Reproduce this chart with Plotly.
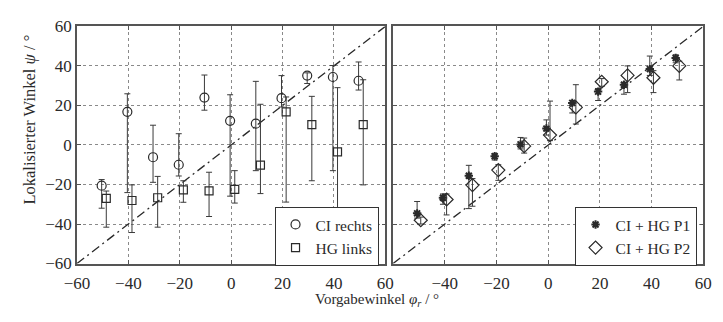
import plotly.graph_objects as go

# ---------------- data ----------------
angles = [-50, -40, -30, -20, -10, 0, 10, 20, 30, 40, 50]

ci_rechts = [-20.6, 16.8, -6.2, -10.0, 24.0, 12.2, 10.8, 23.7, 35.1, 34.4, 32.5]
ci_rechts_hi = [-17.5, 25.9, 10.0, 5.7, 35.4, 25.4, 32.2, 35.1, 36.5, 40.2, 42.0]
ci_rechts_lo = [-32.0, -24.1, -18.9, -15.7, 17.6, -25.9, -13.0, 19.2, 31.1, -13.0, 27.8]

hg_links = [-27.0, -28.1, -26.7, -22.7, -23.2, -22.5, -10.2, 16.7, 10.3, -3.5, 10.3]
hg_links_hi = [-23.3, -20.2, -15.9, -18.1, -13.8, -13.0, 20.6, 24.3, 24.6, 29.0, 33.0]
hg_links_lo = [-41.6, -44.3, -41.6, -29.0, -36.2, -29.4, -24.6, -28.9, -18.1, -32.9, -20.2]

p1 = [-34.6, -26.7, -15.6, -5.7, 0.3, 8.3, 21.3, 27.0, 30.5, 38.4, 44.0]
p1_hi = [-28.6, -24.8, -10.3, -4.4, 3.8, 12.7, 22.5, 28.6, 31.7, 45.0, 45.6]
p1_lo = [-37.0, -30.0, -32.2, -7.6, -2.0, 5.0, 16.2, 22.5, 25.7, 35.2, 41.6]

p2 = [-38.1, -27.6, -20.3, -12.7, -0.6, 5.0, 19.0, 32.0, 35.2, 34.0, 40.0]
p2_hi = [-36.5, -24.8, -17.0, -10.0, 3.5, 22.2, 30.5, 33.6, 40.0, 37.6, 42.4]
p2_lo = [-40.0, -35.4, -31.0, -17.9, -4.1, 2.2, 10.6, 29.7, 26.5, 26.5, 32.9]

diag = [-60, 60]
left_ticks = [-60, -40, -20, 0, 20, 40, 60]
right_ticks = [-40, -20, 0, 20, 40, 60]
y_ticks = [-60, -40, -20, 0, 20, 40, 60]

# ---------------- styling ----------------
FONT = "Liberation Serif"
INK = "#2a2a2a"
FRAME = "#555555"
W, H = 723, 322


def shift(xs, d):
    return [x + d for x in xs]


def err(v, hi, lo):
    return dict(type="data", symmetric=False,
                array=[h - a for a, h in zip(v, hi)],
                arrayminus=[a - l for a, l in zip(v, lo)],
                color="#3a3a3a", thickness=1, width=3)


fig = go.Figure()

for xa, ya in (("x", "y"), ("x2", "y2")):
    fig.add_trace(go.Scatter(x=diag, y=diag, mode="lines", xaxis=xa, yaxis=ya,
                             line=dict(color=INK, width=1.3, dash="9px,4px,2px,4px"),
                             showlegend=False, hoverinfo="skip"))

fig.add_trace(go.Scatter(x=shift(angles, -0.4), y=ci_rechts, mode="markers", name="CI rechts",
                         error_y=err(ci_rechts, ci_rechts_hi, ci_rechts_lo),
                         marker=dict(symbol="circle-open", size=9, color=INK, line=dict(width=1.2)),
                         xaxis="x", yaxis="y", legend="legend"))
fig.add_trace(go.Scatter(x=shift(angles, 1.4), y=hg_links, mode="markers", name="HG links",
                         error_y=err(hg_links, hg_links_hi, hg_links_lo),
                         marker=dict(symbol="square-open", size=8, color=INK, line=dict(width=1.2)),
                         xaxis="x", yaxis="y", legend="legend"))
fig.add_trace(go.Scatter(x=shift(angles, -0.7), y=p1, mode="markers", name="CI + HG P1",
                         error_y=err(p1, p1_hi, p1_lo),
                         marker=dict(symbol="asterisk-open", size=7, color=INK, line=dict(width=2, color=INK)),
                         xaxis="x2", yaxis="y2", legend="legend2"))
fig.add_trace(go.Scatter(x=shift(angles, 0.7), y=p2, mode="markers", name="CI + HG P2",
                         error_y=err(p2, p2_hi, p2_lo),
                         marker=dict(symbol="diamond-open", size=10, color=INK, line=dict(width=1.2)),
                         xaxis="x2", yaxis="y2", legend="legend2"))

axis_common = dict(range=[-60, 60], showline=True, linecolor=FRAME, linewidth=1.5, mirror="ticks",
                   ticks="inside", ticklen=4, tickcolor=FRAME, showgrid=True, gridcolor="#8a8a8a",
                   griddash="dot", gridwidth=1, zeroline=False,
                   tickfont=dict(family=FONT, size=17, color=INK))

xl = (66 / W, 384 / W)
xr = (392 / W, 712 / W)
yd = ((H - 270.5) / H, (H - 18.5) / H)

legend_common = dict(xanchor="right", yanchor="bottom", bordercolor="#333333", borderwidth=1,
                     bgcolor="white", font=dict(family=FONT, size=15.5, color=INK),
                     tracegroupgap=0, itemwidth=30)

fig.update_layout(
    width=W, height=H, margin=dict(l=0, r=0, t=0, b=0),
    paper_bgcolor="white", plot_bgcolor="white",
    xaxis=dict(axis_common, domain=xl, anchor="y", tickvals=left_ticks, ticklabelstandoff=3),
    yaxis=dict(axis_common, domain=yd, anchor="x", tickvals=y_ticks),
    xaxis2=dict(axis_common, domain=xr, anchor="y2", tickvals=right_ticks, ticklabelstandoff=3),
    yaxis2=dict(axis_common, domain=yd, anchor="x2", tickvals=y_ticks, showticklabels=False),
    legend=dict(legend_common, x=377 / W, y=(H - 273) / H),
    legend2=dict(legend_common, x=705 / W, y=(H - 273) / H),
    annotations=[
        dict(text="Vorgabewinkel <i>φ</i><sub><i>r</i></sub> / °", xref="paper", yref="paper",
             x=375 / W, y=(H - 309) / H, xanchor="center", yanchor="middle", showarrow=False,
             font=dict(family=FONT, size=15, color=INK)),
        dict(text="Lokalisierter Winkel <i>ψ</i> / °", xref="paper", yref="paper",
             x=17 / W, y=(H - 117) / H, xanchor="center", yanchor="middle", showarrow=False,
             textangle=-90, font=dict(family=FONT, size=16.5, color=INK)),
    ],
)

fig.write_html("out.html")
